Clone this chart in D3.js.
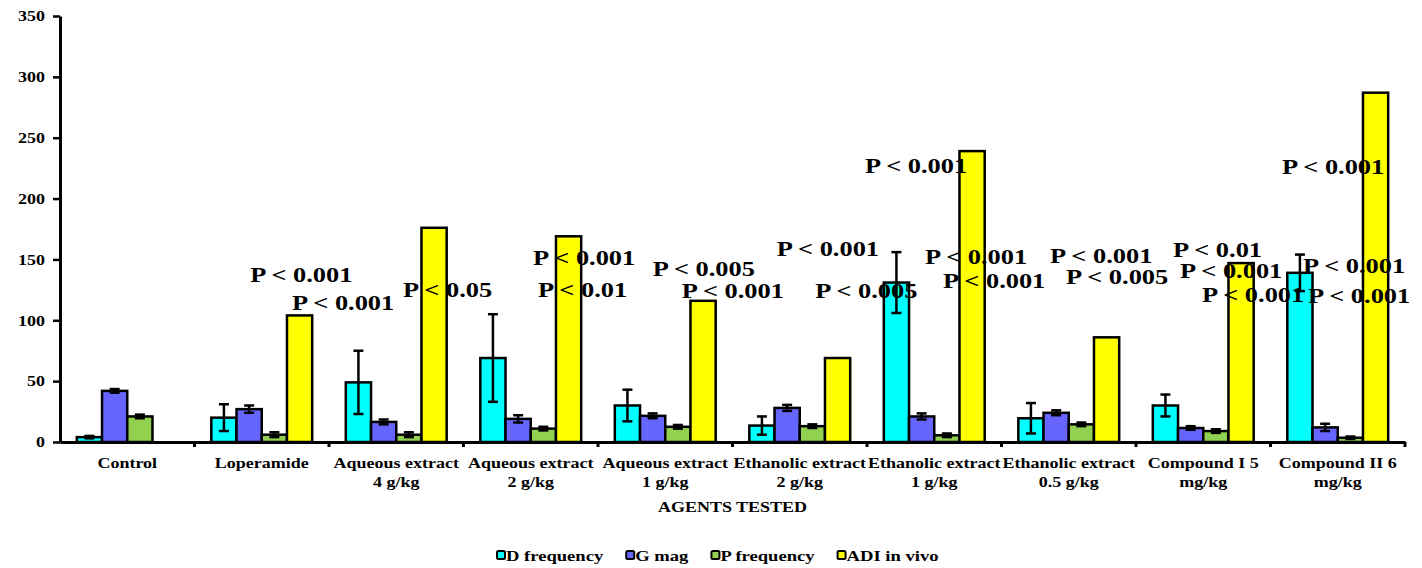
<!DOCTYPE html>
<html>
<head>
<meta charset="utf-8">
<script src="https://cdn.jsdelivr.net/npm/d3@7"></script>
<style>
  body { margin: 0; background: #fff; }
  svg { display: block; font-family: "Liberation Serif", "Times New Roman", serif; font-weight: bold; }
</style>
</head>
<body>
<svg></svg>
<script>
// groups on the x axis (second line after \n)
const categories = ["Control", "Loperamide", "Aqueous extract\n4 g/kg", "Aqueous extract\n2 g/kg",
  "Aqueous extract\n1 g/kg", "Ethanolic extract\n2 g/kg", "Ethanolic extract\n1 g/kg",
  "Ethanolic extract\n0.5 g/kg", "Compound I 5\nmg/kg", "Compound II 6\nmg/kg"];
const seriesNames = ["D frequency", "G mag", "P frequency", "ADI in vivo"];
const seriesColors = ["#00ffff", "#6666ff", "#92d050", "#ffff00"];

const dFreq = [4, 20, 49, 69, 30, 13.5, 131, 19.5, 30, 139];
const dErr  = [1, 11, 26, 36, 13, 7.5, 25, 12.5, 9, 15];
const gMag  = [42, 27, 16.5, 19, 21.5, 28, 21, 24, 11.5, 12];
const gErr  = [1.5, 3, 2, 3, 2, 2.5, 2.5, 2, 1.5, 3];
const pFreq = [21, 6, 6, 11, 12.5, 13, 5.5, 14.5, 9, 3.5];
const pErr  = [1.5, 2, 2, 1.5, 1.5, 1.5, 1.5, 1.5, 1.5, 1];
const adi   = [0, 104, 176, 169, 116, 69, 239, 86, 147, 287];
const adiErr = [0, 0, 0, 0, 0, 0, 0, 0, 0, 0];

const yTicks = [0, 50, 100, 150, 200, 250, 300, 350];

// significance labels: group index, text, value level, slot (in bar widths from group start)
const annoGroup = [1, 1, 2, 3, 3, 4, 4, 5, 5, 6, 6, 6, 7, 7, 8, 8, 8, 9, 9, 9];
const annoText = ["P < 0.001", "P < 0.001", "P < 0.05", "P < 0.001", "P < 0.01", "P < 0.005", "P < 0.001",
  "P < 0.001", "P < 0.005", "P < 0.001", "P < 0.001", "P < 0.001", "P < 0.001", "P < 0.005",
  "P < 0.01", "P < 0.001", "P < 0.001", "P < 0.001", "P < 0.001", "P < 0.001"];
const annoValue = [131.5, 108.5, 119, 145.5, 119, 136, 118.3, 152.8, 118.6, 221.3, 146.3, 126.8,
  147.1, 129.8, 152.3, 134.8, 115.3, 220.2, 138.9, 114.5];
const annoSlot = [1.54, 3.2, 2.27, 2.09, 2.29, 1.5, 2.65, 1.09, 2.61, -0.75, 1.63, 2.35,
  1.26, 1.89, 0.8, 1.08, 1.95, -0.21, 0.62, 0.82];

const values = [dFreq, gMag, pFreq, adi];
const errors = [dErr, gErr, pErr, adiErr];

const W = 1422, H = 568;
const svg = d3.select("svg").attr("width", W).attr("height", H);
svg.append("rect").attr("width", W).attr("height", H).attr("fill", "#fff");

const y = d3.scaleLinear().domain([0, 350]).range([442, 16]);
const x0 = d3.scaleBand().domain(categories).range([60, 1405])
  .paddingInner(0.25).paddingOuter(0.125);
const x1 = d3.scaleBand().domain(seriesNames).range([0, x0.bandwidth()]);
const SX = 1.2; // horizontal stretch of the original text

const bars = [];
seriesNames.forEach((s, si) => {
  categories.forEach((c, ci) => {
    bars.push({ s, si, c, v: values[si][ci], e: errors[si][ci] });
  });
});
const shown = bars.filter(d => d.v > 0);

svg.append("g").selectAll("rect")
  .data(shown)
  .join("rect")
  .attr("x", d => x0(d.c) + x1(d.s))
  .attr("y", d => y(d.v))
  .attr("width", x1.bandwidth())
  .attr("height", d => y(0) - y(d.v))
  .attr("fill", d => seriesColors[d.si])
  .attr("stroke", "#000")
  .attr("stroke-width", 2.5);

// error bars
const eb = svg.append("g").attr("stroke", "#000").attr("stroke-width", 2.5)
  .selectAll("g").data(shown.filter(d => d.e > 0)).join("g")
  .attr("transform", d => `translate(${x0(d.c) + x1(d.s) + x1.bandwidth() / 2},0)`);
eb.append("line").attr("y1", d => y(d.v - d.e)).attr("y2", d => y(d.v + d.e));
eb.append("line").attr("x1", -5).attr("x2", 5).attr("y1", d => y(d.v + d.e)).attr("y2", d => y(d.v + d.e));
eb.append("line").attr("x1", -5).attr("x2", 5).attr("y1", d => y(d.v - d.e)).attr("y2", d => y(d.v - d.e));

// y axis
const yAxis = svg.append("g").attr("transform", "translate(60,0)")
  .call(d3.axisLeft(y).tickValues(yTicks).tickSize(7).tickSizeOuter(0).tickPadding(5.5))
  .attr("font-family", null).attr("font-size", 15);
yAxis.select(".domain").attr("stroke-width", 3);
yAxis.selectAll(".tick line").attr("stroke-width", 2.5);
yAxis.selectAll(".tick text")
  .attr("transform", `scale(${SX},1)`);

// x axis
const xAxis = svg.append("g").attr("transform", "translate(0,442)")
  .call(d3.axisBottom(x0).tickSize(0).tickSizeOuter(0).tickFormat(""));
xAxis.select(".domain").attr("stroke-width", 3);
xAxis.selectAll(".tick text").remove();
xAxis.append("g").selectAll("line")
  .data(categories)
  .join("line")
  .attr("x1", d => x0(d) + x0.bandwidth() + x0.step() * 0.125)
  .attr("x2", d => x0(d) + x0.bandwidth() + x0.step() * 0.125)
  .attr("y1", 0).attr("y2", 5)
  .attr("stroke", "#000").attr("stroke-width", 3);

const lab = svg.append("g").attr("font-size", 15).attr("text-anchor", "middle")
  .selectAll("g").data(categories).join("g")
  .attr("transform", d => `translate(${x0(d) + x0.bandwidth() / 2},0) scale(${SX},1)`);
lab.selectAll("text").data(d => d.split("\n")).join("text")
  .attr("y", (d, i) => 468 + i * 19)
  .text(d => d);

svg.append("text")
  .attr("transform", `translate(${(60 + 1405) / 2},512) scale(${SX},1)`)
  .attr("text-anchor", "middle").attr("font-size", 15)
  .text("AGENTS TESTED");

// significance annotations
svg.append("g").attr("font-size", 22)
  .selectAll("text").data(annoText).join("text")
  .attr("transform", (d, i) =>
    `translate(${x0(categories[annoGroup[i]]) + annoSlot[i] * x1.bandwidth()},${y(annoValue[i])}) scale(${SX},1)`)
  .text(d => d);

// legend
const leg = svg.append("g").attr("font-size", 15.5);
let lx = 496;
seriesNames.forEach((s, i) => {
  const g = leg.append("g").attr("transform", `translate(${lx},0)`);
  g.append("rect").attr("x", 1).attr("y", 551).attr("width", 8).attr("height", 8).attr("rx", 1.5)
    .attr("fill", seriesColors[i]).attr("stroke", "#000").attr("stroke-width", 2);
  const t = g.append("text").attr("transform", `translate(10,561) scale(${SX},1)`).text(s);
  lx += 10 + t.node().getComputedTextLength() * SX + 22;
});
</script>
</body>
</html>
